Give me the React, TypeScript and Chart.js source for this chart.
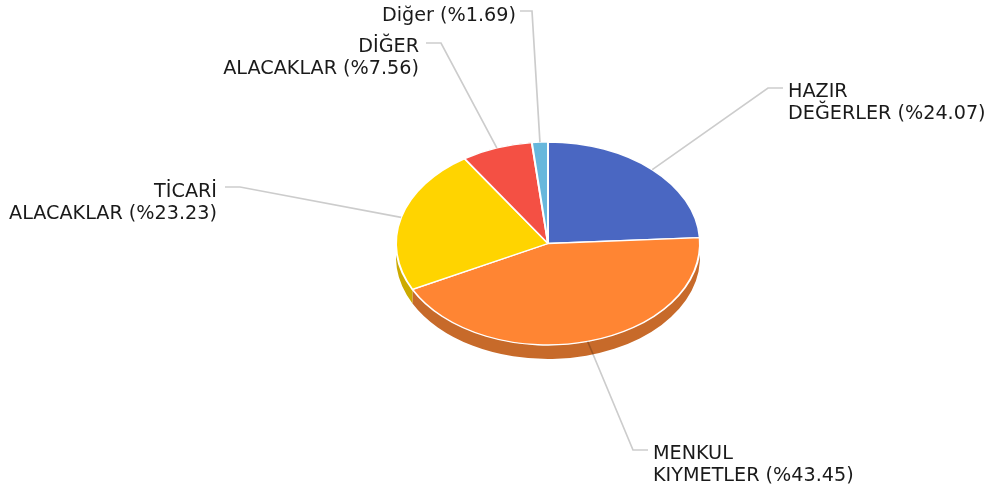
import React, { useEffect, useRef } from "react";
import { Chart, registerables } from "chart.js";

Chart.register(...registerables);

const categories = ["HAZIR\nDEĞERLER", "MENKUL\nKIYMETLER", "TİCARİ\nALACAKLAR", "DİĞER\nALACAKLAR", "Diğer"];
const shares = [24.07, 43.45, 23.23, 7.56, 1.69];
const topColors = ["#4A67C2", "#FF8533", "#FFD400", "#F45044", "#67B7DC"];
const sideColors = ["#3B529B", "#C76A2A", "#CCAA00", "#C34036", "#5292B0"];

const SQUASH = 101.5 / 152;
const DEPTH = 14;
const FONT = '19.2px "DejaVu Sans"';
const LINE_HEIGHT = 22;

// Leader elbows and label anchors, one per category.
const leaders = [
  { elbow: [768, 88], end: [783, 88], textX: 788, textY: 97, align: "left" },
  { elbow: [633, 450], end: [648, 450], textX: 653, textY: 459, align: "left" },
  { elbow: [240, 187], end: [225, 187], textX: 217, textY: 197, align: "right" },
  { elbow: [441, 43], end: [426, 43], textX: 419, textY: 52, align: "right" },
  { elbow: [532, 11], end: [520, 11], textX: 516, textY: 21, align: "right" },
];

const pie3d = {
  id: "pie3d",
  beforeDatasetsDraw(chart: any) {
    const ctx = chart.ctx;
    const arcs = chart.getDatasetMeta(0).data;
    ctx.save();
    arcs.forEach((arc: any, i: number) => {
      const rx = arc.outerRadius;
      const ry = rx * SQUASH;
      ctx.beginPath();
      ctx.ellipse(arc.x, arc.y + DEPTH, rx, ry, 0, arc.startAngle, arc.endAngle);
      ctx.ellipse(arc.x, arc.y, rx, ry, 0, arc.endAngle, arc.startAngle, true);
      ctx.closePath();
      ctx.fillStyle = sideColors[i];
      ctx.fill();
    });
    const first = arcs[0];
    ctx.translate(first.x, first.y);
    ctx.scale(1, SQUASH);
    ctx.translate(-first.x, -first.y);
  },
  afterDatasetsDraw(chart: any) {
    const ctx = chart.ctx;
    ctx.restore();
    const arcs = chart.getDatasetMeta(0).data;
    ctx.save();
    arcs.forEach((arc: any, i: number) => {
      const mid = (arc.startAngle + arc.endAngle) / 2;
      const x = arc.x + arc.outerRadius * Math.cos(mid);
      const y = arc.y + arc.outerRadius * SQUASH * Math.sin(mid);
      const l = leaders[i];
      ctx.beginPath();
      ctx.moveTo(x, y);
      ctx.lineTo(l.elbow[0], l.elbow[1]);
      ctx.lineTo(l.end[0], l.end[1]);
      ctx.strokeStyle = "rgba(0,0,0,0.2)";
      ctx.lineWidth = 1.7;
      ctx.stroke();
      ctx.font = FONT;
      ctx.fillStyle = "#1a1a1a";
      ctx.textAlign = l.align;
      ctx.textBaseline = "alphabetic";
      const lines = categories[i].split("\n");
      lines.forEach((line, k) => {
        const suffix = k === lines.length - 1 ? ` (%${shares[i].toFixed(2)})` : "";
        ctx.fillText(line + suffix, l.textX, l.textY + k * LINE_HEIGHT);
      });
    });
    ctx.restore();
  },
};

export default function App() {
  const ref = useRef<HTMLCanvasElement>(null);
  useEffect(() => {
    const chart = new Chart(ref.current!, {
      type: "pie",
      data: {
        labels: categories.map((c) => c.replace("\n", " ")),
        datasets: [
          {
            data: shares,
            backgroundColor: topColors,
            borderColor: "#ffffff",
            borderWidth: 2,
          },
        ],
      },
      options: {
        responsive: false,
        animation: false,
        layout: { padding: { left: 395, right: 286, top: 90.5, bottom: 98.5 } },
        plugins: { legend: { display: false }, tooltip: { enabled: false }, title: { display: false } },
      },
      plugins: [pie3d],
    } as any);
    return () => chart.destroy();
  }, []);
  return (
    <div style={{ position: "absolute", left: 0, top: 0, width: 987, height: 495, background: "#fff" }}>
      <canvas ref={ref} width={987} height={495} style={{ display: "block" }} />
    </div>
  );
}
